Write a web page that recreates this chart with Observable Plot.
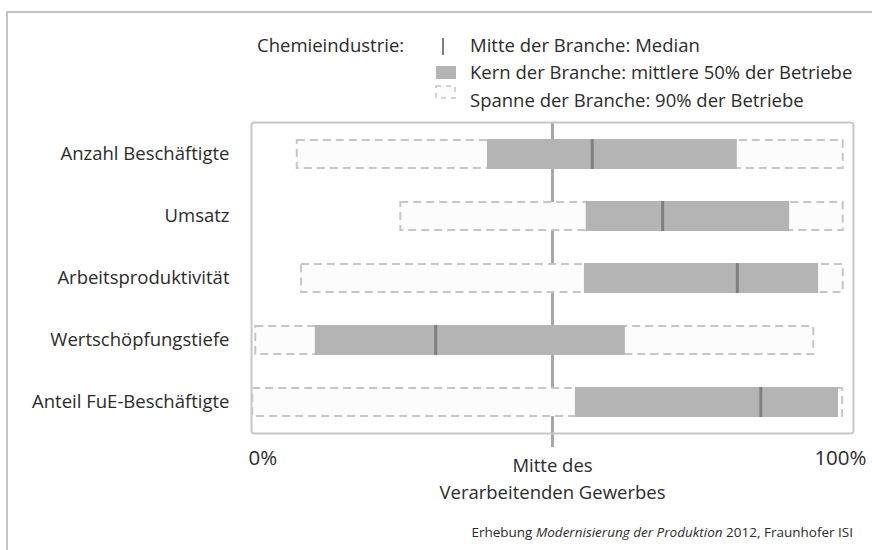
<!DOCTYPE html>
<html>
<head>
<meta charset="utf-8">
<script src="https://cdn.jsdelivr.net/npm/d3@7"></script>
<script src="https://cdn.jsdelivr.net/npm/@observablehq/plot@0.6"></script>
<style>
  html, body { margin: 0; padding: 0; background: #fff; }
  body { width: 872px; height: 550px; position: relative; overflow: hidden; font-family: "Open Sans", sans-serif; color: #2b2b2b; }
  #outer { position: absolute; left: 6px; top: 11px; width: 900px; height: 600px; border-left: 2px solid #c4c4c4; border-top: 2px solid #c4c4c4; }
  #legend { position: relative; height: 115px; font-size: 18.5px; }
  #legend .t { position: absolute; line-height: 24px; white-space: nowrap; }
  #legend svg { position: absolute; }
  #chart { position: relative; height: 400px; }
  #caption { position: relative; margin-top: 9px; line-height: 16px; font-size: 13.5px; text-align: right; padding-right: 19px; white-space: nowrap; }
</style>
</head>
<body>
<div id="outer"></div>
<div id="legend">
  <div class="t" style="left:257px; top:33px;">Chemieindustrie:</div>
  <svg style="left:436px; top:36px;" width="20" height="20"><line x1="7" x2="7" y1="2" y2="19" stroke="#808080" stroke-width="2"/></svg>
  <div class="t" style="left:470px; top:33px;">Mitte der Branche: Median</div>
  <svg style="left:436px; top:66px;" width="20" height="14"><rect x="0" y="0" width="20" height="13" fill="#b4b4b4"/></svg>
  <div class="t" style="left:470px; top:60px;">Kern der Branche: mittlere 50% der Betriebe</div>
  <svg style="left:435px; top:85px;" width="22" height="16"><rect x="1" y="1" width="19" height="12" fill="#fcfcfc" stroke="#c6c6c6" stroke-width="1.5" stroke-dasharray="5,5"/></svg>
  <div class="t" style="left:470px; top:88px;">Spanne der Branche: 90% der Betriebe</div>
</div>
<div id="chart"></div>
<div id="caption">Erhebung <i>Modernisierung der Produktion</i> 2012, Fraunhofer ISI</div>
<script>
// Data (percentile positions relative to the manufacturing sector, 0–100%)
const categories = ["Anzahl Beschäftigte", "Umsatz", "Arbeitsproduktivität", "Wertschöpfungstiefe", "Anteil FuE-Beschäftigte"];
const p5     = [7.6, 24.8, 8.3, 0.7, 0.2];
const q1     = [39.2, 55.6, 55.3, 10.6, 53.8];
const median = [56.6, 68.3, 80.7, 30.6, 84.6];
const q3     = [80.7, 89.4, 94.2, 62.1, 97.5];
const p95    = [98.3, 98.3, 98.3, 93.4, 98.2];
const centerValue = [50];
const axisLeft = ["0%"];
const axisCenter = ["Mitte des\nVerarbeitenden Gewerbes"];
const axisRight = ["100%"];

const rows = categories.map((c, i) => ({cat: c, p5: p5[i], q1: q1[i], med: median[i], q3: q3[i], p95: p95[i]}));

const chart = Plot.plot({
  width: 872,
  height: 400,
  marginTop: 7,
  marginBottom: 82,
  marginLeft: 251,
  marginRight: 19,
  style: {fontFamily: "Open Sans, sans-serif", fontSize: "18.5px", color: "#2b2b2b", background: "transparent", overflow: "visible"},
  x: {domain: [0, 100], axis: null},
  y: {domain: categories, paddingInner: 0.518, paddingOuter: 0.259, axis: null},
  marks: [
    Plot.ruleX(centerValue, {x: d => d, stroke: "#a6a6a6", strokeWidth: 3, insetBottom: -14}),
    Plot.barX(rows, {y: "cat", x1: "p5", x2: "p95", fill: "#fcfcfc", stroke: "#c6c6c6", strokeWidth: 2, strokeDasharray: "8,5", insetTop: 1, insetBottom: 1}),
    Plot.barX(rows, {y: "cat", x1: "q1", x2: "q3", fill: "#b4b4b4"}),
    Plot.tickX(rows, {y: "cat", x: "med", stroke: "#7f7f7f", strokeWidth: 3}),
    Plot.frame({stroke: "#c8c8c8", strokeWidth: 2, rx: 3}),
    Plot.axisY({tickSize: 0, tickPadding: 22, fontSize: 18.5, label: null}),
    Plot.text([0], {x: d => d, text: axisLeft, frameAnchor: "bottom", textAnchor: "start", lineAnchor: "middle", dx: -3, dy: 25, fontSize: 20.5}),
    Plot.text([100], {x: d => d, text: axisRight, frameAnchor: "bottom", textAnchor: "end", lineAnchor: "middle", dx: 13, dy: 25, fontSize: 20.5}),
    Plot.text(centerValue, {x: d => d, text: axisCenter, frameAnchor: "bottom", textAnchor: "middle", lineAnchor: "middle", lineHeight: 1.42, dy: 43.5, fontSize: 18.5})
  ]
});
document.getElementById("chart").appendChild(chart);
</script>
</body>
</html>
